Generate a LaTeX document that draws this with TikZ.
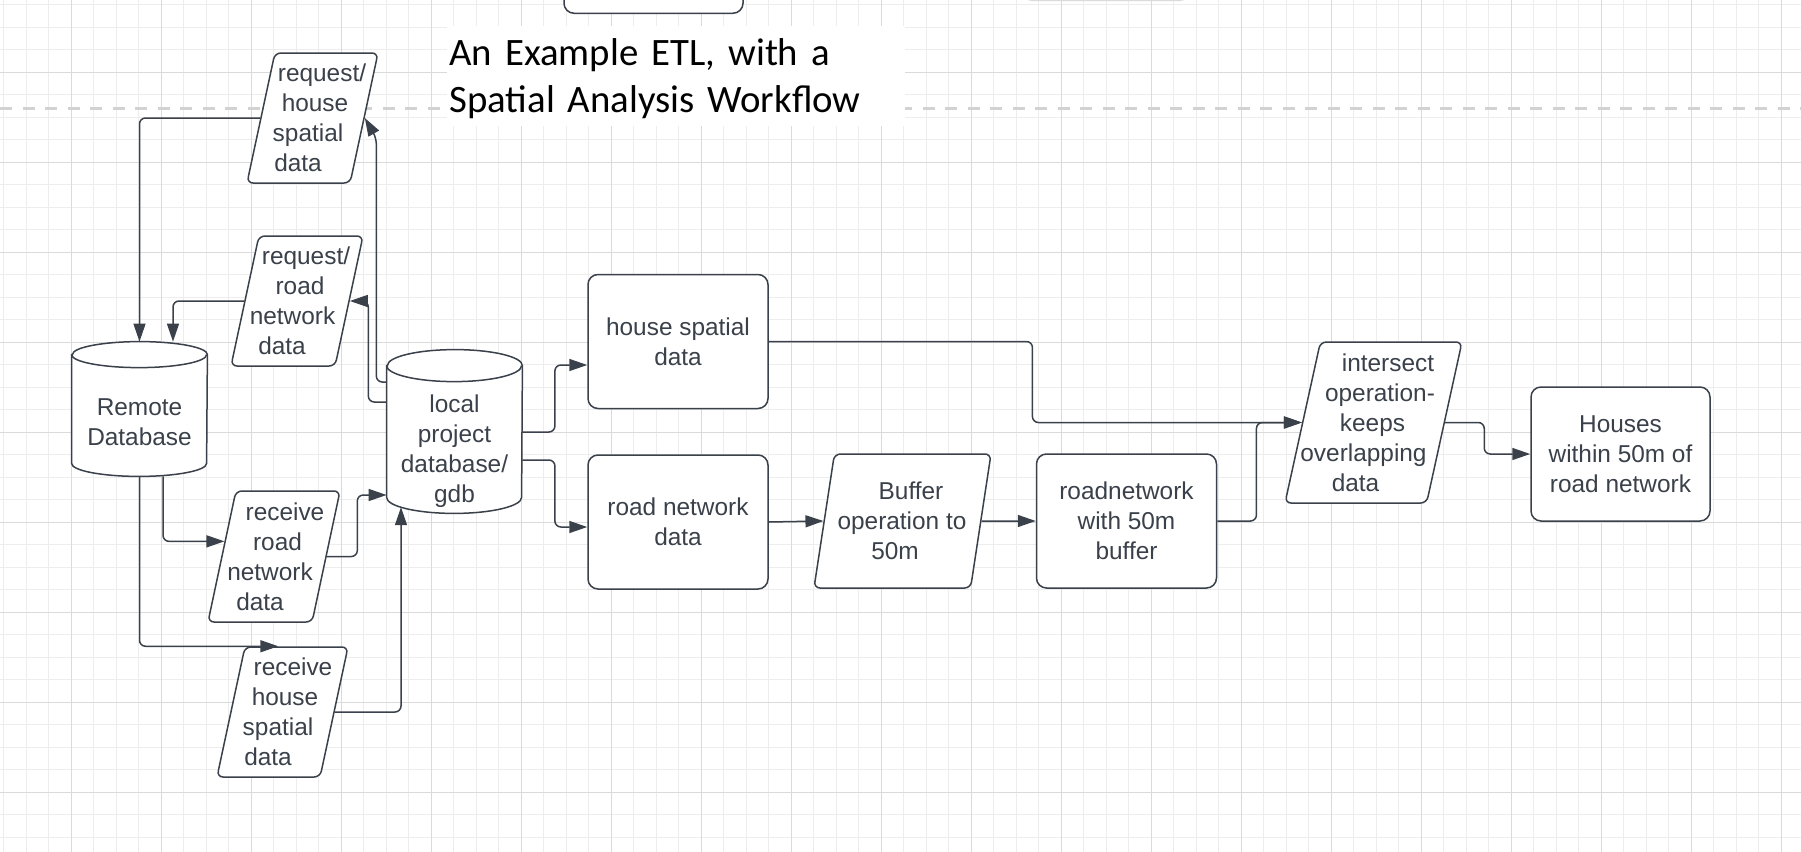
\documentclass[tikz,border=0pt]{standalone}
\usepackage{fontspec}
\setmainfont{Liberation Sans}
\newfontfamily\titlefont{Carlito}
\usetikzlibrary{shapes.geometric, arrows.meta, positioning}
\definecolor{lucid}{HTML}{3A414A}
\definecolor{gridminor}{HTML}{EDEDED}
\definecolor{gridmajor}{HTML}{DADADA}
\definecolor{guide}{HTML}{D2D2D2}
\pgfdeclarelayer{grid}
\pgfdeclarelayer{shell}
\pgfsetlayers{grid,shell,main}
\newcommand{\sline}[2]{\makebox[0pt]{\hspace*{#1}#2}}
% cylinder outline round a database node, #2 = radius of the end
\newcommand{\dbshell}[2]{%
    \draw[shell] ([yshift=#2]#1.north west) -- ([yshift=#2]#1.south west)
        arc[start angle=180, end angle=360, x radius=33.75pt, y radius=#2]
        -- ([yshift=#2]#1.north east)
        arc[start angle=0, end angle=180, x radius=33.75pt, y radius=#2] -- cycle;
    \draw[shell, fill=none] ([yshift=#2]#1.north west)
        arc[start angle=180, end angle=360, x radius=33.75pt, y radius=#2];}

\begin{document}
\begin{tikzpicture}[
        x=0.5pt, y=-0.5pt,
        node distance=31.25pt,
        box/.style={
            rectangle,
            rounded corners=5pt,
            draw=lucid,
            line width=0.75pt,
            fill=white,
            text=lucid,
            minimum width=90pt,
            minimum height=67pt,
            inner sep=1pt,
            align=center,
            font={\fontsize{12.2}{15}\selectfont}
        },
        slant/.style={
            box,
            trapezium,
            trapezium left angle=76,
            trapezium right angle=104,
            trapezium stretches body,
            rounded corners=3pt,
            minimum width=88.5pt
        },
        db/.style={
            rectangle,
            text=lucid,
            minimum width=67.5pt,
            inner sep=0pt,
            align=center,
            font={\fontsize{12.2}{15}\selectfont}
        },
        shell/.style={
            draw=lucid,
            fill=white,
            line width=0.75pt
        },
        flow/.style={
            draw=lucid,
            line width=0.75pt,
            rounded corners=3pt,
            -{Triangle[length=9pt, width=6pt]}
        }
    ]
        \useasboundingbox (0,0) rectangle (1801,852);

        % --- BACKGROUND GRID ---
        \begin{pgfonlayer}{grid}
        \foreach \gx in {3.5,26,...,1801} \draw[gridminor, line width=0.5pt] (\gx,0) -- (\gx,852);
        \foreach \gy in {4.5,27,...,852} \draw[gridminor, line width=0.5pt] (0,\gy) -- (1801,\gy);
        \foreach \gx in {71,161,...,1801} \draw[gridmajor, line width=0.5pt] (\gx,0) -- (\gx,852);
        \foreach \gy in {72,162,...,852} \draw[gridmajor, line width=0.5pt] (0,\gy) -- (1801,\gy);
        \draw[guide, line width=1.5pt, dash pattern=on 6pt off 5.25pt] (0,108.5) -- (1801,108.5);
        \end{pgfonlayer}

        % --- TITLE ---
        \node[fill=white, anchor=north west, inner xsep=1pt, inner ysep=0pt, text width=227pt,
            minimum height=50pt, align=left, font={\titlefont\fontsize{19.4}{23.5}\selectfont}]
            (title) at (447,26) {\rule{0pt}{16pt}An Example ETL, with a\\Spatial Analysis Workflow};

        % shapes cut by the top edge
        \node[box, anchor=south, minimum width=89.5pt] (topbox) at (653.5,14) {};
        \node[rectangle, rounded corners=5pt, draw=gridmajor, line width=0.5pt,
            minimum width=84pt, minimum height=40pt, anchor=south] (ghost) at (1106,1) {};

        % --- DATABASES (body only, ends drawn below) ---
        \node[db, minimum height=54pt] (remote) at (139.5,422) {Remote\\Database};
        \node[db, minimum height=65.5pt] (local) at (454.5,447.5) {\rule{0pt}{12.2pt}local\\project\\database/\\gdb};
        \begin{pgfonlayer}{shell}
            \dbshell{remote}{6.5pt}
            \dbshell{local}{8pt}
        \end{pgfonlayer}

        % --- REQUESTS AND DOWNLOADS ---
        \node[slant, minimum width=65.5pt, minimum height=65pt] (hreq) at (312.5,118)
            {\sline{9.5pt}{request/}\\ \sline{2.5pt}{house}\\ \sline{-4.5pt}{spatial}\\ \sline{-14.5pt}{data}};
        \node[slant, minimum width=66pt, minimum height=65pt] (rreq) at (297,301)
            {\sline{9pt}{request/}\\ \sline{3pt}{road}\\ \sline{-4.5pt}{network}\\ \sline{-15pt}{data}};
        \node[slant, minimum width=66pt, minimum height=65.5pt] (rrecv) at (274,556.5)
            {\sline{11pt}{receive}\\ \sline{3.5pt}{road}\\ \sline{-4pt}{network}\\ \sline{-14pt}{data}};
        \node[slant, minimum width=65.5pt, minimum height=65pt] (hrecv) at (282.5,712)
            {\sline{10.5pt}{receive}\\ \sline{2.5pt}{house}\\ \sline{-4.5pt}{spatial}\\ \sline{-14.5pt}{data}};

        % --- ANALYSIS CHAIN ---
        \node[box] (house) at (678,341.5) {house spatial\\data};
        \node[box, below=22.5pt of house] (road) {road network\\data};
        \node[slant] (buffer) at (902.5,521)
            {\sline{8.5pt}{Buffer}\\ \sline{-0.5pt}{operation to}\\ \sline{-7.5pt}{50m}};
        \node[box] (rbuf) at (1126.5,521) {roadnetwork\\with 50m\\buffer};
        \node[slant, minimum height=80.5pt] (isect) at (1373.5,422.5)
            {\sline{14.5pt}{intersect}\\ \sline{6.5pt}{operation-}\\ \sline{-1pt}{keeps}\\
             \sline{-10pt}{overlapping}\\ \sline{-18pt}{data}};
        \node[box, minimum width=89.5pt] (result) at (1620.5,454) {Houses\\within 50m of\\road network};

        % --- CONNECTORS: local <-> remote ---
        \draw[flow] (hreq.180) -| ([yshift=13pt]remote.north);
        \draw[flow] (rreq.180) -| ([xshift=16.75pt, yshift=13pt]remote.north);
        \draw[flow] ([yshift=32.75pt]local.west) -| ([xshift=5.75pt, yshift=-10pt]hreq.0) -- (hreq.0);
        \draw[flow] ([yshift=22.75pt]local.west) -| ([xshift=9.25pt]rreq.0) -- (rreq.0);
        \draw[flow] ([xshift=11.75pt]remote.south) |- (rrecv.163);
        \draw[flow] (remote.south) |- ([xshift=17pt]hrecv.top left corner);
        \draw[flow] (rrecv.0) -- ++(15.25pt,0) |- ([yshift=-23.75pt]local.west);
        \draw[flow] (hrecv.0) -| ([xshift=-26.75pt, yshift=3.1pt]local.south);

        % --- CONNECTORS: analysis ---
        \draw[flow] ([yshift=7.75pt]local.east) -- ++(16.25pt,0) |- ([yshift=-11.75pt]house.west);
        \draw[flow] ([yshift=-6.25pt]local.east) -- ++(16.25pt,0) |- ([yshift=-2.5pt]road.west);
        \draw[flow] (road.east) -- (buffer.180);
        \draw[flow] (buffer.0) -- (rbuf.west);
        \draw[flow] (house.east) -| ([xshift=-134.75pt]isect.180) -- (isect.180);
        \draw[flow] (rbuf.east) -| ([xshift=-22.75pt]isect.180) -- (isect.180);
        \draw[flow] (isect.0) -| ([xshift=-23pt]result.west) -- (result.west);

\end{tikzpicture}
\end{document}
